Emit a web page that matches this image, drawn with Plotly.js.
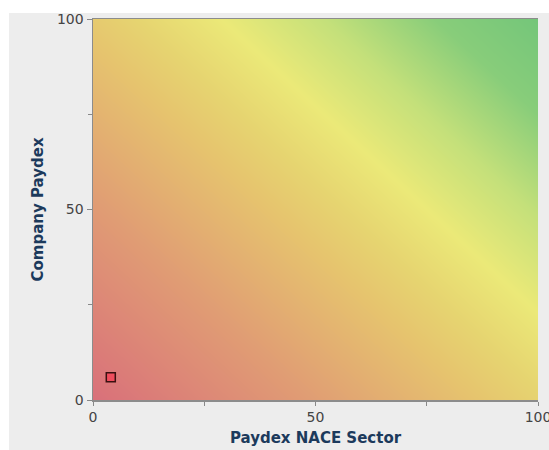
<!DOCTYPE html>
<html>
<head>
<meta charset="utf-8">
<script src="https://cdn.plot.ly/plotly-3.0.1.min.js"></script>
<style>html,body{margin:0;padding:0;background:#fff;}#chart{width:549px;height:450px;}</style>
</head>
<body>
<div id="chart"></div>
<script>
// Data point: company vs sector Paydex
const sectorPaydex = [4];
const companyPaydex = [6];

// Axis ticks
const tickValues = [0, 50, 100];
const tickLabels = ['0', '50', '100'];

// Background gradient: combined score at plot corners
const gradientAxis = [0, 100];
const gradientScore = [[0, 52], [48, 100]];
const gradientColors = [
  [0.00, '#d9707a'],
  [0.25, '#e09c74'],
  [0.45, '#e6c46e'],
  [0.53, '#e6d470'],
  [0.63, '#ebe978'],
  [0.75, '#c4e07a'],
  [0.88, '#88cd7a'],
  [1.00, '#74c67a']
];

const traces = [
  {
    type: 'heatmap',
    x: gradientAxis,
    y: gradientAxis,
    z: gradientScore,
    zmin: 0, zmax: 100,
    zsmooth: 'best',
    colorscale: gradientColors,
    showscale: false,
    hoverinfo: 'skip'
  },
  {
    type: 'scatter',
    mode: 'markers',
    x: sectorPaydex,
    y: companyPaydex,
    marker: {symbol: 'square', size: 9, color: '#ef4d5d', line: {color: '#3a1010', width: 1.5}},
    hoverinfo: 'x+y'
  }
];

const tickFont = {family: 'DejaVu Sans, Verdana, sans-serif', size: 14, color: '#444'};
const titleFont = {family: 'DejaVu Sans, Verdana, sans-serif', size: 15, color: '#1c3a5c', weight: 'bold'};

const layout = {
  width: 549, height: 450,
  margin: {l: 93, r: 11, t: 19, b: 50},
  paper_bgcolor: '#ededed',
  plot_bgcolor: '#ededed',
  showlegend: false,
  xaxis: {
    range: [0, 100], fixedrange: true,
    tickvals: tickValues, ticktext: tickLabels,
    ticks: 'outside', ticklen: 4, tickcolor: '#888', tickwidth: 1,
    minor: {tickvals: [25, 75], ticks: 'outside', ticklen: 4, tickcolor: '#888', showgrid: false},
    showgrid: true, gridcolor: 'rgba(120,120,120,0.45)', gridwidth: 1,
    zeroline: false,
    showline: true, linecolor: '#8c8c8c', linewidth: 1.5, mirror: true,
    tickfont: tickFont,
    ticklabeloverflow: 'allow',
    title: {text: 'Paydex NACE Sector', font: titleFont, standoff: 8},
    automargin: false
  },
  yaxis: {
    range: [0, 100], fixedrange: true,
    tickvals: tickValues, ticktext: tickLabels,
    ticks: 'outside', ticklen: 5, tickcolor: '#888', tickwidth: 1,
    minor: {tickvals: [25, 75], ticks: 'outside', ticklen: 4, tickcolor: '#888', showgrid: false},
    showgrid: true, gridcolor: 'rgba(120,120,120,0.45)', gridwidth: 1,
    zeroline: false,
    showline: true, linecolor: '#8c8c8c', linewidth: 1.5,
    tickfont: tickFont,
    title: {text: 'Company Paydex', font: titleFont, standoff: 9},
    automargin: false
  },
  shapes: [
    {type: 'rect', xref: 'paper', yref: 'paper', x0: -0.25, x1: 1.1, y0: 1.0157, y1: 1.1, fillcolor: '#ffffff', line: {width: 0}, layer: 'below'},
    {type: 'rect', xref: 'paper', yref: 'paper', x0: -0.25, x1: -0.1888, y0: -0.2, y1: 1.1, fillcolor: '#ffffff', line: {width: 0}, layer: 'below'}
  ]
};

Plotly.newPlot('chart', traces, layout, {displayModeBar: false, staticPlot: true});
</script>
</body>
</html>
